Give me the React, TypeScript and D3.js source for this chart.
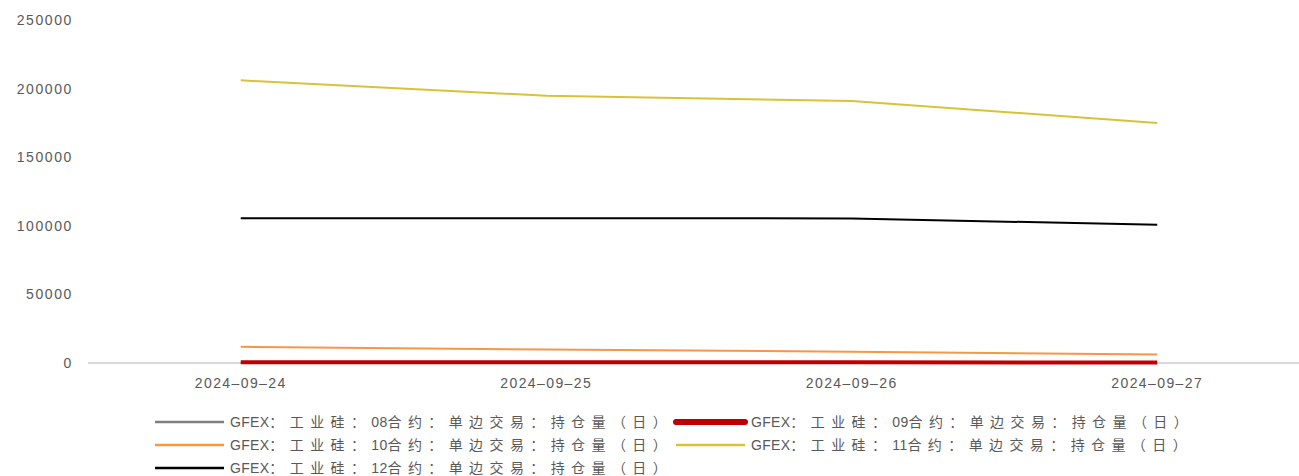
import React from "react";
import * as d3 from "d3";

const categories = ["2024-09-24", "2024-09-25", "2024-09-26", "2024-09-27"];
const yTicks = [0, 50000, 100000, 150000, 200000, 250000];

const s08 = [0, 0, 0, 0];
const s09 = [600, 600, 500, 400];
const s10 = [11800, 9800, 8200, 6200];
const s11 = [206000, 194800, 191000, 175000];
const s12 = [105500, 105500, 105400, 100700];

const seriesNames = [
  "GFEX：工业硅：08合约：单边交易：持仓量（日）",
  "GFEX：工业硅：09合约：单边交易：持仓量（日）",
  "GFEX：工业硅：10合约：单边交易：持仓量（日）",
  "GFEX：工业硅：11合约：单边交易：持仓量（日）",
  "GFEX：工业硅：12合约：单边交易：持仓量（日）",
];

const series = [
  { name: seriesNames[0], values: s08, color: "#7f7f7f", width: 2, legendWidth: 2.5 },
  { name: seriesNames[1], values: s09, color: "#c00000", width: 4, legendWidth: 6 },
  { name: seriesNames[2], values: s10, color: "#f79646", width: 2, legendWidth: 2.5 },
  { name: seriesNames[3], values: s11, color: "#d9c238", width: 2, legendWidth: 2.5 },
  { name: seriesNames[4], values: s12, color: "#000000", width: 2, legendWidth: 2.5 },
];

const W = 1299;
const H = 476;

function splitRuns(s: string) {
  const runs: { t: string; cjk: boolean }[] = [];
  for (const ch of s) {
    const cjk = ch.charCodeAt(0) > 0x2e80;
    const last = runs[runs.length - 1];
    if (last && last.cjk === cjk) last.t += ch;
    else runs.push({ t: ch, cjk });
  }
  return runs;
}

export default function App() {
  const x = d3.scalePoint<string>().domain(categories).range([88, 1310]).padding(0.5);
  const y = d3.scaleLinear().domain([0, 250000]).range([363, 20]);
  const line = d3
    .line<number>()
    .x((_, i) => x(categories[i]) as number)
    .y((d) => y(d));

  const font = "'Liberation Sans', Arial, 'Noto Sans CJK SC', sans-serif";
  const legendPos = [
    { lx: 155, ty: 422 },
    { lx: 676, ty: 422 },
    { lx: 155, ty: 445 },
    { lx: 676, ty: 445 },
    { lx: 155, ty: 468 },
  ];

  return (
    <svg
      width={W}
      height={H}
      style={{ position: "absolute", left: 0, top: 0, background: "#fff" }}
      fontFamily={font}
    >
      {yTicks.map((t) => (
        <text
          key={t}
          x={73}
          y={y(t) + 5}
          textAnchor="end"
          fontSize={14}
          fill="#595959"
          letterSpacing={1.6}
        >
          {t}
        </text>
      ))}
      <line x1={88} x2={1299} y1={y(0)} y2={y(0)} stroke="#d9d9d9" strokeWidth={2} />
      {categories.map((c) => (
        <text
          key={c}
          x={x(c)}
          y={388}
          textAnchor="middle"
          fontSize={14}
          fill="#595959"
          letterSpacing={1.4}
        >
          {c.replace(/-/g, "\u2013")}
        </text>
      ))}
      {series.map((s) => (
        <path
          key={s.name}
          d={line(s.values) || ""}
          fill="none"
          stroke={s.color}
          strokeWidth={s.width}
          strokeLinejoin="round"
        />
      ))}
      {series.map((s, i) => {
        const p = legendPos[i];
        return (
          <g key={"lg" + i}>
            <line
              x1={p.lx}
              x2={p.lx + 69}
              y1={p.ty}
              y2={p.ty}
              stroke={s.color}
              strokeWidth={s.legendWidth}
              strokeLinecap={i === 1 ? "round" : "butt"}
            />
            <text x={p.lx + 75} y={p.ty + 5} fontSize={14} fill="#595959">
              {splitRuns(s.name).map((r, k) => (
                <tspan key={k} letterSpacing={r.cjk ? 6.4 : 0.3}>
                  {r.t}
                </tspan>
              ))}
            </text>
          </g>
        );
      })}
    </svg>
  );
}
